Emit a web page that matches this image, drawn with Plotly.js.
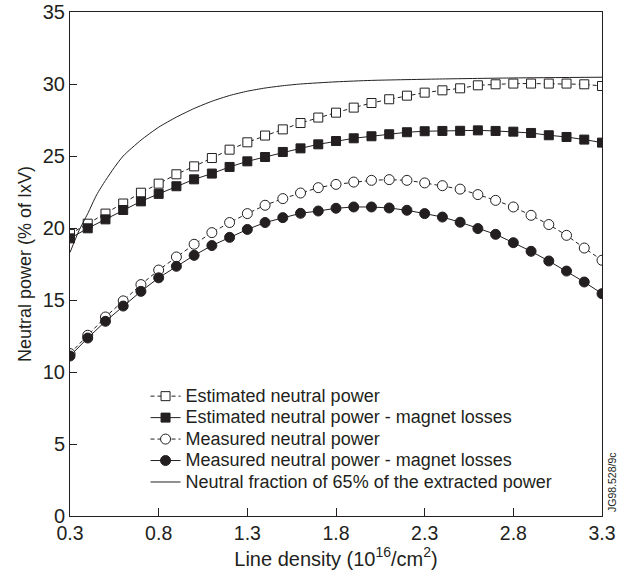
<!DOCTYPE html>
<html>
<head>
<meta charset="utf-8">
<script src="https://cdn.plot.ly/plotly-3.0.1.min.js"></script>
<style>html,body{margin:0;padding:0;background:#fff;}#chart{width:624px;height:573px;}</style>
</head>
<body>
<div id="chart"></div>
<script>
const density = [0.3,0.4,0.5,0.6,0.7,0.8,0.9,1.0,1.1,1.2,1.3,1.4,1.5,1.6,1.7,1.8,1.9,2.0,2.1,2.2,2.3,2.4,2.5,2.6,2.7,2.8,2.9,3.0,3.1,3.2,3.3];
const estimatedNeutral = [19.58,20.3,21.0,21.7,22.45,23.08,23.73,24.28,24.86,25.44,25.95,26.42,26.85,27.29,27.67,28.01,28.36,28.68,28.94,29.19,29.4,29.56,29.7,29.91,29.98,30.03,30.03,30.03,30.03,29.98,29.86];
const estimatedMinusMagnet = [19.28,19.98,20.6,21.25,21.85,22.37,22.9,23.38,23.78,24.24,24.63,24.93,25.28,25.53,25.81,26.04,26.23,26.37,26.51,26.65,26.72,26.74,26.75,26.78,26.74,26.69,26.6,26.44,26.32,26.14,25.93];
const measuredNeutral = [11.28,12.55,13.82,14.94,16.07,17.08,17.99,18.87,19.68,20.38,21.0,21.58,22.04,22.43,22.8,23.03,23.19,23.31,23.36,23.31,23.13,22.94,22.7,22.32,21.92,21.46,20.88,20.24,19.49,18.61,17.76];
const measuredMinusMagnet = [11.11,12.36,13.52,14.58,15.6,16.54,17.34,18.1,18.78,19.35,19.9,20.38,20.72,21.02,21.18,21.37,21.46,21.46,21.39,21.23,21.0,20.76,20.4,19.96,19.56,18.98,18.38,17.71,17.01,16.25,15.44];
const fractionX = [0.3,0.35,0.4,0.45,0.5,0.55,0.6,0.7,0.8,0.9,1.0,1.1,1.2,1.3,1.4,1.5,1.6,1.8,2.0,2.4,2.8,3.3];
const fraction65 = [18.3,19.8,21.0,22.3,23.3,24.2,25.0,26.1,27.0,27.7,28.3,28.8,29.2,29.5,29.72,29.88,30.0,30.15,30.25,30.35,30.42,30.47];
const seriesNames = ["Estimated neutral power","Estimated neutral power - magnet losses","Measured neutral power","Measured neutral power - magnet losses","Neutral fraction of 65% of the extracted power"];
const xTicks = [0.3,0.8,1.3,1.8,2.3,2.8,3.3];
const yTicks = [0,5,10,15,20,25,30,35];

const ink = '#231f20';
const font = 'Liberation Sans, Arial, sans-serif';
const legendLabel = s => '<span style="font-size:18px">' + s + '</span>';

const traces = [
  {x: density, y: estimatedNeutral, name: legendLabel(seriesNames[0]), mode: 'lines+markers',
   line: {color: ink, width: 1, dash: '4px,3px'},
   marker: {symbol: 'square', size: 9, color: '#fff', line: {color: ink, width: 1}}},
  {x: density, y: estimatedMinusMagnet, name: legendLabel(seriesNames[1]), mode: 'lines+markers',
   line: {color: ink, width: 1},
   marker: {symbol: 'square', size: 9, color: ink, line: {color: ink, width: 1}}},
  {x: density, y: measuredNeutral, name: legendLabel(seriesNames[2]), mode: 'lines+markers',
   line: {color: ink, width: 1, dash: '4px,3px'},
   marker: {symbol: 'circle', size: 10, color: '#fff', line: {color: ink, width: 1}}},
  {x: density, y: measuredMinusMagnet, name: legendLabel(seriesNames[3]), mode: 'lines+markers',
   line: {color: ink, width: 1},
   marker: {symbol: 'circle', size: 10, color: ink, line: {color: ink, width: 1}}},
  {x: fractionX, y: fraction65, name: legendLabel(seriesNames[4]), mode: 'lines',
   line: {color: ink, width: 1, shape: 'spline', smoothing: 0.6}}
];

const layout = {
  width: 624, height: 573,
  margin: {l: 69.5, r: 22, t: 12, b: 57.3, pad: 0},
  paper_bgcolor: '#fff', plot_bgcolor: '#fff',
  font: {family: font, color: ink, size: 16},
  showlegend: true,
  legend: {x: 0.142, y: 0.269, xanchor: 'left', yanchor: 'top', bgcolor: 'rgba(0,0,0,0)',
           font: {family: font, size: 14.2, color: ink}, tracegroupgap: 0, itemwidth: 30},
  xaxis: {range: [0.3, 3.3], tickvals: xTicks, ticktext: xTicks.map(v => v.toFixed(1)),
          ticks: 'inside', ticklen: 8, tickcolor: ink, showline: true, linecolor: ink, linewidth: 1,
          mirror: true, showgrid: false, zeroline: false,
          tickfont: {family: font, size: 19.5, color: ink},
          title: {text: 'Line density (10<sup>16</sup>/cm<sup>2</sup>)', font: {family: font, size: 20, color: ink}, standoff: 7}},
  yaxis: {range: [0, 35], tickvals: yTicks, ticks: 'inside', ticklen: 7, tickcolor: ink,
          showline: true, linecolor: ink, linewidth: 1, mirror: true, showgrid: false, zeroline: false,
          tickfont: {family: font, size: 20, color: ink},
          title: {text: 'Neutral power (% of IxV)', font: {family: font, size: 18, color: ink}, standoff: 6}},
  annotations: [
    {text: 'JG98.528/9c', xref: 'paper', yref: 'paper', x: 1.0, y: 0.0, xanchor: 'left', yanchor: 'bottom',
     xshift: 2, yshift: 2, textangle: -90, showarrow: false, font: {family: font, size: 10.5, color: ink}}
  ]
};

Plotly.newPlot('chart', traces, layout, {displayModeBar: false, staticPlot: true});
</script>
</body>
</html>
